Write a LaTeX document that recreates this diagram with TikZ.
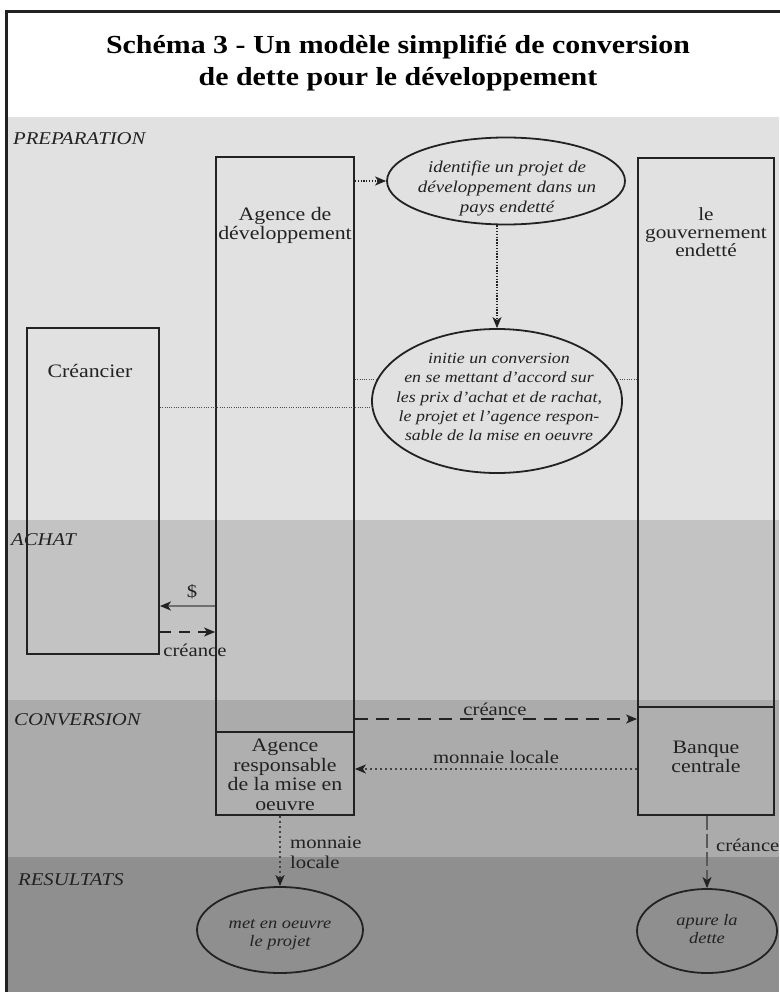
\documentclass[tikz,border=0pt]{standalone}
\usepackage{fontspec}
\setmainfont{Liberation Serif}[FakeStretch=1.15]
\usetikzlibrary{shapes.geometric,arrows.meta}
\definecolor{bandA}{HTML}{E1E1E1}
\definecolor{bandB}{HTML}{C3C3C3}
\definecolor{bandC}{HTML}{ABABAB}
\definecolor{bandD}{HTML}{8F8F8F}
\definecolor{boxfill}{HTML}{AFAFAF}
\definecolor{ink}{HTML}{222222}
\tikzset{
  boxnode/.style={draw=ink, line width=1.8pt, rectangle, inner sep=0pt},
  ellnode/.style={draw=ink, line width=1.8pt, ellipse, inner sep=0pt},
  boxtext/.style={font=\fontsize{19}{17}\selectfont, align=center, text=ink, inner sep=0pt},
  elltext/.style={font=\fontsize{16}{19.5}\selectfont\itshape, align=center, text=ink, inner sep=0pt},
  bandlabel/.style={font=\fontsize{18}{20}\selectfont\itshape, anchor=west, text=ink, inner sep=0pt},
  linklabel/.style={font=\fontsize{18}{20}\selectfont, text=ink, inner sep=0pt},
  arrtip/.style={-{Stealth[length=11pt,width=9pt,inset=3pt,color=ink]}},
  dotfine/.style={draw=ink, line width=1.3pt, dash pattern=on 1.3pt off 1.5pt},
  dotthin/.style={draw=ink!80, line width=1pt, dash pattern=on 1pt off 1.3pt},
  dotbold/.style={draw=ink!85, line width=1.9pt, dash pattern=on 1.9pt off 3.1pt},
  solidlink/.style={draw=ink!65, line width=2.2pt},
  dashlinkA/.style={draw=ink, line width=1.6pt, dash pattern=on 11pt off 8pt},
  dashlinkB/.style={draw=ink, line width=1.8pt, dash pattern=on 13pt off 8pt},
  dashlinkC/.style={draw=ink!75, line width=1.4pt, dash pattern=on 14pt off 4pt}
}
\begin{document}
\begin{tikzpicture}[x=1pt,y=-1pt]
\useasboundingbox (0,0) rectangle (779,992);
\fill[white] (0,0) rectangle (779,992);
% bands
\fill[bandA] (8,117) rectangle (779,520);
\fill[bandB] (8,520) rectangle (779,700);
\fill[bandC] (8,700) rectangle (779,857);
\fill[bandD] (8,857) rectangle (779,992);
% frame
\draw[line width=3pt, ink] (6.5,1010) -- (6.5,12) -- (800,12);
% title
\node[font=\fontsize{26}{32}\selectfont\bfseries, align=center, inner sep=0pt, text=black] (title) at (398,63) {Schéma 3 - Un modèle simplifié de conversion\\de dette pour le développement};
% band labels
\node[bandlabel] (lprep) at (13,139) {PREPARATION};
\node[bandlabel] (lachat) at (11,540) {ACHAT};
\node[bandlabel] (lconv) at (14,720) {CONVERSION};
\node[bandlabel] (lres) at (18,880) {RESULTATS};
% boxes
\node[boxnode, minimum width=138pt, minimum height=575pt] (agdev) at (285,444.5) {};
\node[boxnode, fill=boxfill, minimum width=138pt, minimum height=83pt] (agresp) at (285,773.5) {};
\node[boxnode, minimum width=136pt, minimum height=549pt] (gov) at (706,432.5) {};
\node[boxnode, fill=boxfill, minimum width=136pt, minimum height=108pt] (banque) at (706,761) {};
\node[boxnode, minimum width=132pt, minimum height=326pt] (cred) at (93,491) {};
% ellipses
\node[ellnode, minimum width=238pt, minimum height=87pt] (ell1) at (506,181) {};
\node[ellnode, minimum width=250pt, minimum height=144pt] (ell2) at (497,401) {};
\node[ellnode, minimum width=166pt, minimum height=86pt] (ell3) at (280,930) {};
\node[ellnode, minimum width=140pt, minimum height=84pt] (ell4) at (707,931) {};
% box texts
\node[boxtext] (agdevT) at (285,225.5) {Agence de\\développement};
\node[boxtext, font=\fontsize{18.5}{18}\selectfont] (govT) at (706,232) {le\\gouvernement\\endetté};
\node[boxtext] (credT) at (90,371) {Créancier};
\node[boxtext, font=\fontsize{19}{19.5}\selectfont] (agrespT) at (285,775) {Agence\\responsable\\de la mise en\\oeuvre};
\node[boxtext, font=\fontsize{19}{19}\selectfont] (banqueT) at (706,757) {Banque\\centrale};
% ellipse texts
\node[elltext, font=\fontsize{16.5}{20}\selectfont\itshape] (ell1T) at (507,188) {identifie un projet de\\développement dans un\\pays endetté};
\node[elltext, font=\fontsize{15.5}{19.2}\selectfont\itshape] (ell2T) at (499,397) {initie un conversion\\en se mettant d’accord sur\\les prix d’achat et de rachat,\\le projet et l’agence respon-\\sable de la mise en oeuvre};
\node[elltext, font=\fontsize{16}{18}\selectfont\itshape] (ell3T) at (280,935) {met en oeuvre\\le projet};
\node[elltext, font=\fontsize{16}{18}\selectfont\itshape] (ell4T) at (707,929) {apure la\\dette};
% helper levels
\coordinate (yDol) at (0,606);
\coordinate (yCrA) at (0,632);
\coordinate (yCrC) at (0,719);
\coordinate (yMl) at (0,769);
% connectors
\draw[dotfine, arrtip] (ell1.west -| agdev.east) -- (ell1.west);
\draw[dotfine, arrtip] (ell2.north |- ell1.south) -- (ell2.north);
\draw[dotthin] (ell2.170 -| agdev.east) -- (ell2.170);
\draw[dotthin] (ell2.10) -- (ell2.10 -| gov.west);
\draw[dotthin] (ell2.183 -| cred.east) -- (ell2.183);
\draw[solidlink, arrtip] (agdev.west |- yDol) -- (cred.east |- yDol);
\draw[dashlinkA, arrtip] (cred.east |- yCrA) -- (agdev.west |- yCrA);
\draw[dashlinkB, arrtip] (agdev.east |- yCrC) -- (banque.west |- yCrC);
\draw[dotbold, arrtip] (banque.west |- yMl) -- (agresp.east |- yMl);
\draw[dotbold, arrtip] (ell3.north |- agresp.south) -- (ell3.north);
\draw[dashlinkC, arrtip] (ell4.north |- banque.south) -- (ell4.north);
% connector labels
\node[linklabel] (ldol) at (192,592) {\$};
\node[linklabel] (lcr1) at (195,650) {créance};
\node[linklabel] (lcr2) at (495,709) {créance};
\node[linklabel] (lml) at (496,757) {monnaie locale};
\node[linklabel, anchor=west, align=left] (lml2) at (290,853) {monnaie\\locale};
\node[linklabel, anchor=west] (lcr3) at (716,845) {créance};
\end{tikzpicture}
\end{document}
